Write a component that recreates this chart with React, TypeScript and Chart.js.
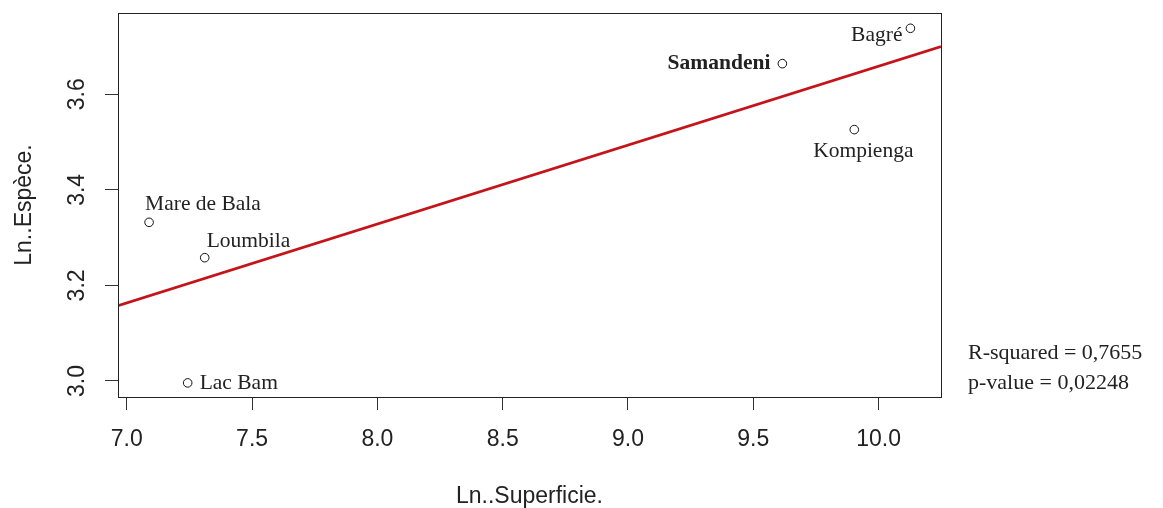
import React, { useEffect, useRef } from "react";
import { Chart, registerables } from "chart.js";

Chart.register(...registerables);

// ---- data ----
const siteNames = ["Mare de Bala", "Loumbila", "Lac Bam", "Samandeni", "Bagré", "Kompienga"];
const lnSuperficie = [7.089, 7.311, 7.243, 9.616, 10.127, 9.903];
const lnEspece = [3.332, 3.258, 2.996, 3.664, 3.738, 3.526];
const xTickValues = [7.0, 7.5, 8.0, 8.5, 9.0, 9.5, 10.0];
const yTickValues = [3.0, 3.2, 3.4, 3.6];
const statLines = ["R-squared = 0,7655", "p-value = 0,02248"];
const xAxisTitle = "Ln..Superficie.";
const yAxisTitle = "Ln..Espèce.";
const xRange = [6.965, 10.249];
const yRange = [2.9665, 3.77];

// least-squares fit from the data
function fitLine(xs: number[], ys: number[]) {
  const n = xs.length;
  const mx = xs.reduce((a, b) => a + b, 0) / n;
  const my = ys.reduce((a, b) => a + b, 0) / n;
  let sxy = 0, sxx = 0;
  for (let i = 0; i < n; i++) {
    sxy += (xs[i] - mx) * (ys[i] - my);
    sxx += (xs[i] - mx) * (xs[i] - mx);
  }
  const slope = sxy / sxx;
  return { slope, intercept: my - slope * mx };
}

const SANS = "'Liberation Sans', Arial, sans-serif";
const SERIF = "'Liberation Serif', 'Times New Roman', serif";

// label placement (styling only)
const labelPlacement: Record<string, { dx: number; dy: number; align: CanvasTextAlign; bold?: boolean }> = {
  "Mare de Bala": { dx: -4, dy: -18, align: "left" },
  Loumbila: { dx: 2, dy: -16, align: "left" },
  "Lac Bam": { dx: 12, dy: 0, align: "left" },
  Samandeni: { dx: -12, dy: 0, align: "right", bold: true },
  "Bagré": { dx: -8, dy: 7, align: "right" },
  Kompienga: { dx: 9, dy: 22, align: "center" },
};

const decorPlugin = {
  id: "decor",
  afterDraw(chart: any) {
    const { ctx, chartArea } = chart;
    const xs = chart.scales.x;
    const ys = chart.scales.y;
    ctx.save();
    // box
    ctx.strokeStyle = "#222";
    ctx.lineWidth = 1;
    ctx.strokeRect(
      Math.round(chartArea.left) + 0.5,
      Math.round(chartArea.top) + 0.5,
      Math.round(chartArea.right - chartArea.left),
      Math.round(chartArea.bottom - chartArea.top)
    );
    // x tick labels
    ctx.fillStyle = "#222";
    ctx.font = `23px ${SANS}`;
    ctx.textAlign = "center";
    ctx.textBaseline = "middle";
    xTickValues.forEach((v) => {
      ctx.fillText(v.toFixed(1), xs.getPixelForValue(v), 440);
    });
    // y tick labels (rotated)
    yTickValues.forEach((v) => {
      ctx.save();
      ctx.translate(78, ys.getPixelForValue(v));
      ctx.rotate(-Math.PI / 2);
      ctx.fillText(v.toFixed(1), 0, 0);
      ctx.restore();
    });
    // axis titles
    ctx.fillText(xAxisTitle, (chartArea.left + chartArea.right) / 2, 497);
    ctx.save();
    ctx.translate(25, (chartArea.top + chartArea.bottom) / 2);
    ctx.rotate(-Math.PI / 2);
    ctx.fillText(yAxisTitle, 0, 0);
    ctx.restore();
    // point labels
    const meta = chart.getDatasetMeta(1);
    meta.data.forEach((pt: any, i: number) => {
      const name = siteNames[i];
      const p = labelPlacement[name];
      ctx.font = `${p.bold ? "bold " : ""}21.5px ${SERIF}`;
      ctx.textAlign = p.align;
      ctx.textBaseline = "middle";
      ctx.fillStyle = "#222";
      ctx.fillText(name, pt.x + p.dx, pt.y + p.dy);
    });
    // stats
    ctx.font = `22px ${SERIF}`;
    ctx.textAlign = "left";
    statLines.forEach((s, i) => {
      ctx.fillText(s, 968, 353 + i * 30);
    });
    ctx.restore();
  },
};

export default function App() {
  const ref = useRef<HTMLCanvasElement>(null);
  useEffect(() => {
    if (!ref.current) return;
    const { slope, intercept } = fitLine(lnSuperficie, lnEspece);
    const fitData = xRange.map((x) => ({ x, y: intercept + slope * x }));
    const points = lnSuperficie.map((x, i) => ({ x, y: lnEspece[i] }));
    const chart = new Chart(ref.current, {
      type: "scatter",
      data: {
        datasets: [
          {
            type: "line",
            data: fitData,
            borderColor: "#c4141a",
            borderWidth: 2.6,
            pointRadius: 0,
            fill: false,
            tension: 0,
          } as any,
          {
            data: points,
            pointRadius: 4.3,
            pointHoverRadius: 4.3,
            borderColor: "#111",
            backgroundColor: "rgba(255,255,255,0)",
            borderWidth: 1,
          },
        ],
      },
      options: {
        responsive: false,
        animation: false,
        devicePixelRatio: 1,
        layout: { padding: { left: 0, top: 13, right: 222, bottom: 0 } },
        plugins: { legend: { display: false }, tooltip: { enabled: false } },
        scales: {
          x: {
            type: "linear",
            position: "bottom",
            min: xRange[0],
            max: xRange[1],
            afterBuildTicks: (s: any) => {
              s.ticks = xTickValues.map((v) => ({ value: v }));
            },
            afterFit: (s: any) => {
              s.height = 111;
            },
            ticks: { display: false },
            grid: { drawOnChartArea: false, drawTicks: true, tickLength: 13, color: "#333", lineWidth: 1 },
            border: { display: true, color: "#222", width: 1 },
          },
          y: {
            type: "linear",
            min: yRange[0],
            max: yRange[1],
            afterBuildTicks: (s: any) => {
              s.ticks = yTickValues.map((v) => ({ value: v }));
            },
            afterFit: (s: any) => {
              s.width = 118;
            },
            ticks: { display: false },
            grid: { drawOnChartArea: false, drawTicks: true, tickLength: 13, color: "#333", lineWidth: 1 },
            border: { display: true, color: "#222", width: 1 },
          },
        },
      } as any,
      plugins: [decorPlugin],
    });
    return () => chart.destroy();
  }, []);
  return (
    <div style={{ position: "fixed", left: 0, top: 0, width: 1163, height: 508, background: "#fff" }}>
      <canvas ref={ref} width={1163} height={508} style={{ display: "block" }} />
    </div>
  );
}
